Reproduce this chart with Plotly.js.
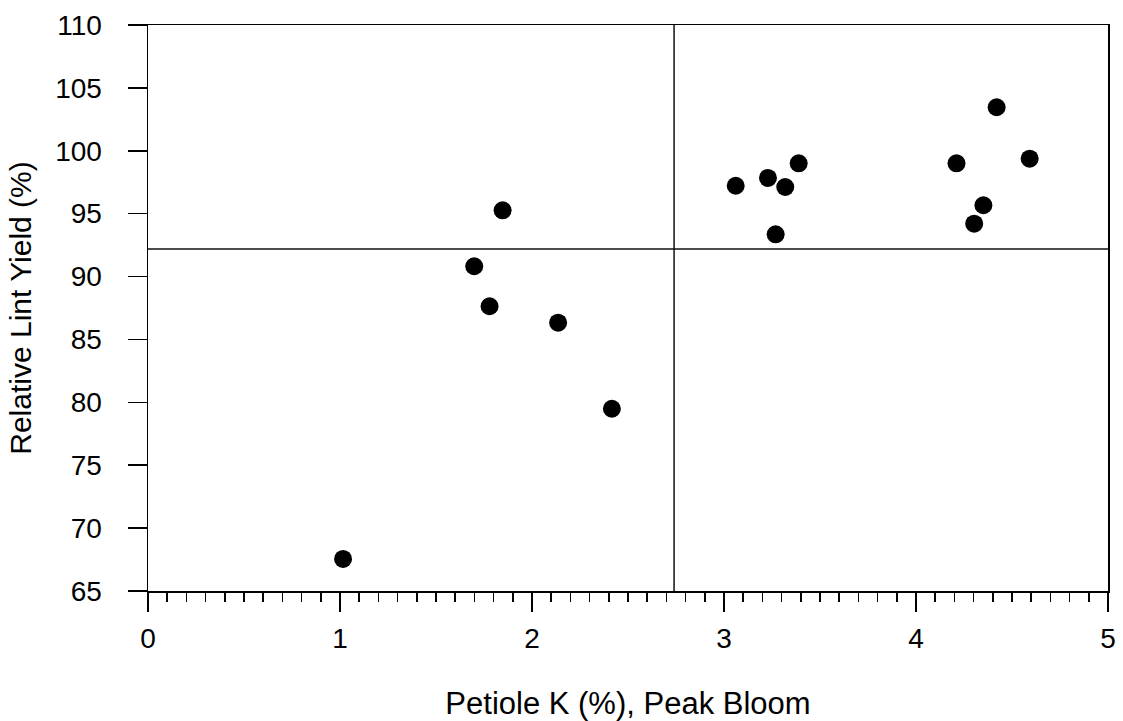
<!DOCTYPE html>
<html>
<head>
<meta charset="utf-8">
<script src="https://cdn.plot.ly/plotly-3.0.1.min.js"></script>
<style>
html,body{margin:0;padding:0;background:#fff;}
#chart{width:1123px;height:721px;}
</style>
</head>
<body>
<div id="chart"></div>
<script>
// Petiole K (%) at peak bloom
var petioleK = [1.016, 1.699, 1.779, 1.847, 2.136, 2.416, 3.061, 3.229, 3.269, 3.319, 3.389, 4.211, 4.303, 4.351, 4.420, 4.592];
// Relative lint yield (%)
var relYield = [67.55, 90.82, 87.64, 95.27, 86.33, 79.49, 97.22, 97.84, 93.36, 97.12, 99.00, 99.00, 94.20, 95.67, 103.46, 99.37];
// Critical level lines
var critK = [2.74];
var critYield = [92.2];
var xTicks = [0, 1, 2, 3, 4, 5];
var yTicks = [65, 70, 75, 80, 85, 90, 95, 100, 105, 110];

var fontFam = '"Liberation Sans", Arial, sans-serif';

var trace = {
  x: petioleK,
  y: relYield,
  type: 'scatter',
  mode: 'markers',
  marker: {color: '#000', size: 18, line: {width: 0}},
  hoverinfo: 'x+y'
};

var shapes = [];
critK.forEach(function (v) {
  shapes.push({type: 'line', xref: 'x', yref: 'paper', x0: v, x1: v, y0: 0, y1: 1,
    line: {color: '#111', width: 1.5}});
});
critYield.forEach(function (v) {
  shapes.push({type: 'line', xref: 'paper', yref: 'y', x0: 0, x1: 1, y0: v, y1: v,
    line: {color: '#111', width: 1.5}});
});

var layout = {
  width: 1123,
  height: 721,
  margin: {l: 148, r: 15, t: 25, b: 130},
  paper_bgcolor: '#fff',
  plot_bgcolor: '#fff',
  showlegend: false,
  font: {family: fontFam, color: '#000', size: 28},
  xaxis: {
    range: [0, 5],
    tickvals: xTicks,
    ticktext: xTicks.map(String),
    ticks: 'outside',
    ticklen: 19,
    tickwidth: 1.5,
    tickcolor: '#000',
    ticklabelstandoff: 3,
    minor: {dtick: 0.1, ticks: 'outside', ticklen: 9, tickwidth: 1.5, tickcolor: '#000', showgrid: false},
    showline: true,
    linecolor: '#000',
    linewidth: 1.5,
    mirror: true,
    showgrid: false,
    zeroline: false,
    tickfont: {size: 28, family: fontFam, color: '#000'},
    title: {text: 'Petiole K (%), Peak Bloom', font: {size: 31, family: fontFam, color: '#000'}, standoff: 48}
  },
  yaxis: {
    range: [65, 110],
    tickvals: yTicks,
    ticktext: yTicks.map(String),
    ticks: 'outside',
    ticklen: 19,
    tickwidth: 1.5,
    tickcolor: '#000',
    ticklabelstandoff: 20,
    showline: true,
    linecolor: '#000',
    linewidth: 1.5,
    mirror: true,
    showgrid: false,
    zeroline: false,
    tickfont: {size: 28, family: fontFam, color: '#000'},
    title: {text: 'Relative Lint Yield (%)', font: {size: 30, family: fontFam, color: '#000'}, standoff: 14}
  },
  shapes: shapes
};

Plotly.newPlot('chart', [trace], layout, {displayModeBar: false, staticPlot: true});
</script>
</body>
</html>
